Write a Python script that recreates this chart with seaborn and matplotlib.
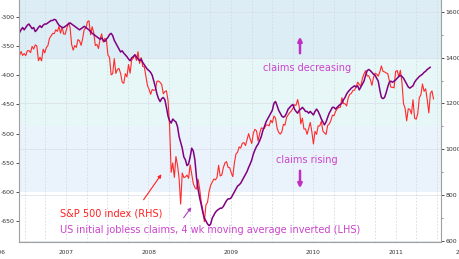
import pandas as pd
import matplotlib
matplotlib.use('Agg')
import matplotlib.pyplot as plt
import matplotlib.dates as mdates
import matplotlib.ticker as mticker
import seaborn as sns

# === DANE (tygodniowe) ===
# S&P 500, zamkniecia tygodniowe od 2006-12-08
sp500 = [
    1409, 1427, 1410, 1418,
    # 2007
    1409, 1430, 1431, 1422, 1449, 1438, 1456, 1451, 1387, 1402, 1386, 1437, 1421,
    1444, 1453, 1484, 1495, 1506, 1505, 1522, 1515, 1536, 1507, 1533, 1503, 1503,
    1530, 1552, 1534, 1458, 1433, 1453, 1445, 1479, 1474, 1454, 1484, 1525, 1527,
    1557, 1561, 1500, 1535, 1509, 1453, 1458, 1440, 1481, 1504, 1468, 1484, 1478,
    # 2008
    1411, 1401, 1325, 1330, 1396, 1331, 1349, 1353, 1331, 1293, 1288, 1330, 1316,
    1370, 1332, 1390, 1398, 1414, 1388, 1426, 1375, 1400, 1361, 1360, 1318, 1278,
    1262, 1240, 1261, 1257, 1260, 1297, 1298, 1292, 1283, 1242, 1252, 1255, 1213,
    1100, 899, 940, 877, 968, 930, 873, 760, 896, 876, 879, 887, 873,
    # 2009
    932, 890, 850, 832, 826, 869, 827, 770, 735, 683, 757, 768, 816,
    843, 857, 870, 866, 877, 930, 883, 887, 919, 940, 946, 921, 919,
    897, 880, 941, 979, 987, 1010, 1005, 1026, 1029, 1016, 1042, 1068, 1044,
    1025, 1071, 1087, 1080, 1036, 1069, 1093, 1091, 1091, 1106, 1106, 1102, 1127, 1115,
    # 2010
    1145, 1136, 1092, 1074, 1066, 1075, 1109, 1105, 1139, 1150, 1160, 1167,
    1179, 1194, 1192, 1217, 1187, 1111, 1136, 1088, 1089, 1065, 1092, 1117, 1076,
    1023, 1078, 1065, 1102, 1102, 1122, 1079, 1071, 1065, 1104, 1110, 1125, 1149,
    1146, 1165, 1176, 1183, 1183, 1225, 1199, 1199, 1189, 1224, 1240, 1244, 1257, 1258,
    # 2011
    1272, 1293, 1283, 1276, 1310, 1329, 1343, 1320, 1321, 1304, 1279, 1313,
    1332, 1328, 1319, 1337, 1364, 1340, 1338, 1333, 1331, 1300, 1271, 1271, 1268,
    1340, 1344, 1316, 1345, 1292, 1199, 1179, 1124, 1177, 1174, 1154, 1216, 1136, 1131,
    1155, 1225, 1238, 1285, 1253, 1264, 1216, 1159, 1244, 1255, 1219,
]

# wnioski o zasilek, srednia 4-tyg. (tys.), od 2006-12-08
claims = [
    327, 322, 318, 322,
    # 2007
    318, 314, 312, 316, 320, 318, 325, 322, 318, 315, 318, 314, 312,
    312, 310, 308, 306, 306, 304, 305, 310, 314, 316, 318, 318, 316,
    314, 312, 310, 312, 314, 316, 318, 320, 322, 320, 318, 316, 318,
    320, 322, 325, 328, 330, 332, 334, 336, 338, 336, 340, 342, 338,
    # 2008
    335, 330, 328, 332, 340, 345, 350, 355, 360, 358, 362, 365, 368,
    372, 375, 370, 368, 365, 368, 372, 375, 372, 378, 382, 386, 390,
    392, 395, 400, 410, 420, 432, 440, 445, 440, 438, 442, 455, 470,
    478, 482, 475, 478, 480, 488, 505, 515, 525, 540, 545, 555, 552,
    # 2009
    540, 525, 530, 545, 575, 595, 610, 622, 635, 645, 650, 655, 658,
    655, 645, 640, 635, 632, 630, 628, 628, 625, 620, 615, 612, 612,
    610, 605, 600, 595, 590, 588, 585, 580, 575, 570, 565, 558, 552,
    545, 535, 528, 522, 518, 512, 505, 495, 488, 480, 475, 470, 465, 460,
    # 2010
    448, 445, 452, 460, 465, 470, 472, 470, 465, 458, 455, 452,
    450, 458, 462, 465, 460, 458, 455, 458, 462, 462, 465, 462, 465,
    468, 462, 458, 462, 468, 475, 480, 485, 480, 472, 465, 460, 455,
    455, 458, 455, 452, 450, 448, 442, 438, 432, 428, 425, 422, 420, 418,
    # 2011
    420, 418, 425, 420, 415, 410, 400, 392, 390, 392, 395, 398,
    400, 405, 410, 425, 438, 440, 438, 430, 420, 412, 410, 412, 410,
    408, 405, 402, 400, 402, 405, 410, 415, 420, 422, 420, 418, 412, 408,
    405, 402, 400, 398, 395, 393, 390, 388, 386,
]

sp_df = pd.DataFrame({
    'Data': pd.date_range('2006-12-08', periods=len(sp500), freq='W-FRI'),
    'SP500': sp500,
})
cl_df = pd.DataFrame({
    'Data': pd.date_range('2006-12-08', periods=len(claims), freq='W-FRI'),
    'Claims': [-c for c in claims],
})

# === WYKRES ===
sns.set_theme(style='white')
plt.rcParams['font.family'] = ['DejaVu Sans']
plt.rcParams['axes.unicode_minus'] = False

W, H = 460, 259
fig = plt.figure(figsize=(W / 100, H / 100), dpi=100)
ax = fig.add_axes([19 / W, 17 / H, 422 / W, 242 / H])
ax2 = ax.twinx()
ax.set_zorder(ax2.get_zorder() + 1)
ax.patch.set_visible(False)

# tlo w pasach
ax2.axhspan(1400, 2000, color='#dcedf6', zorder=0, lw=0)
ax2.axhspan(1100, 1400, color='#e7f6f7', zorder=0, lw=0)
ax2.axhspan(813, 1100, color='#eaf3fb', zorder=0, lw=0)
for q in pd.date_range('2007-01-01', '2012-01-01', freq='QS'):
    ax2.axvline(q, color='#d3dbe3', lw=0.6, ls=(0, (2, 2)), zorder=0.5)
ax2.set_axisbelow(True)
ax2.grid(axis='y', color='#d8dfe6', lw=0.5)

sns.lineplot(data=sp_df, x='Data', y='SP500', ax=ax2, color='#ff2a2a', linewidth=0.8)
sns.lineplot(data=cl_df, x='Data', y='Claims', ax=ax, color='#800080', linewidth=1.1)

ax.set_xlim(pd.Timestamp('2006-12-06'), pd.Timestamp('2012-01-18'))
ax.set_ylim(-686, -270.8)
ax2.set_ylim(594.6, 1652)
for a in (ax, ax2):
    a.set_xlabel('')
    a.set_ylabel('')

ax.yaxis.set_major_locator(mticker.MultipleLocator(50))
ax.tick_params(axis='y', labelsize=4.5, length=2, width=0.6, colors='#333333', pad=1, direction='out')
ax2.yaxis.set_major_locator(mticker.MultipleLocator(200))
ax2.yaxis.set_minor_locator(mticker.MultipleLocator(100))
ax2.tick_params(axis='y', which='major', labelsize=4.5, length=2, width=0.6, colors='#333333', pad=1, direction='out')
ax2.tick_params(axis='y', which='minor', length=1.5, width=0.5, color='#666666', direction='out')

ax.xaxis.set_major_locator(mdates.YearLocator())
ax.xaxis.set_minor_locator(mdates.MonthLocator())
ax.tick_params(axis='x', which='major', length=10, width=1.2, color='#c8c8c8', labelbottom=False, direction='out')
ax.tick_params(axis='x', which='minor', length=1.5, width=0.5, color='#777777', direction='in')

for y in range(2007, 2012):
    ax.text(pd.Timestamp(f'{y}-07-02'), -0.043, str(y), transform=ax.get_xaxis_transform(),
            ha='center', va='center', fontsize=4.2, color='#333333')
# lata 2006 i 2012 uciete na krawedziach, jak w oryginale
fig.text(5 / W, 1 - 252 / H, '2006', ha='right', va='center', fontsize=4.2, color='#333333')
fig.text(456 / W, 1 - 252 / H, '2012', ha='left', va='center', fontsize=4.2, color='#333333')

for s in ('top', 'right'):
    ax.spines[s].set_visible(False)
for s in ('top', 'left', 'bottom'):
    ax2.spines[s].set_visible(False)
ax.spines['left'].set_color('#a0a0a0')
ax.spines['bottom'].set_color('#a0a0a0')
ax2.spines['right'].set_color('#a0a0a0')
for s in ('left', 'bottom'):
    ax.spines[s].set_linewidth(0.8)
ax2.spines['right'].set_linewidth(0.8)


def fp(x, y):
    return (x / W, 1 - y / H)


# opisy
fig.text(*fp(307, 68), 'claims decreasing', ha='center', va='center', fontsize=7, color='#cc44cc')
fig.text(*fp(307, 160), 'claims rising', ha='center', va='center', fontsize=7, color='#cc44cc')
ax.annotate('', xy=fp(300, 34), xytext=fp(300, 56), xycoords='figure fraction',
            arrowprops=dict(arrowstyle='-|>', color='#c030c0', lw=1.8, mutation_scale=6))
ax.annotate('', xy=fp(300, 191), xytext=fp(300, 168), xycoords='figure fraction',
            arrowprops=dict(arrowstyle='-|>', color='#c030c0', lw=1.8, mutation_scale=6))

fig.text(*fp(60, 213), 'S&P 500 index (RHS)', ha='left', va='center', fontsize=7, color='#ff2020')
fig.text(*fp(60, 230), 'US initial jobless claims, 4 wk moving average inverted (LHS)',
         ha='left', va='center', fontsize=7, color='#cc44cc')
ax.annotate('', xy=fp(163, 172), xytext=fp(142, 202), xycoords='figure fraction',
            arrowprops=dict(arrowstyle='-|>', color='#ff2020', lw=0.8, mutation_scale=5))
ax.annotate('', xy=fp(193, 205), xytext=fp(182, 220), xycoords='figure fraction',
            arrowprops=dict(arrowstyle='-|>', color='#b040c0', lw=0.8, mutation_scale=5))

fig.savefig('out.png', dpi=100)
